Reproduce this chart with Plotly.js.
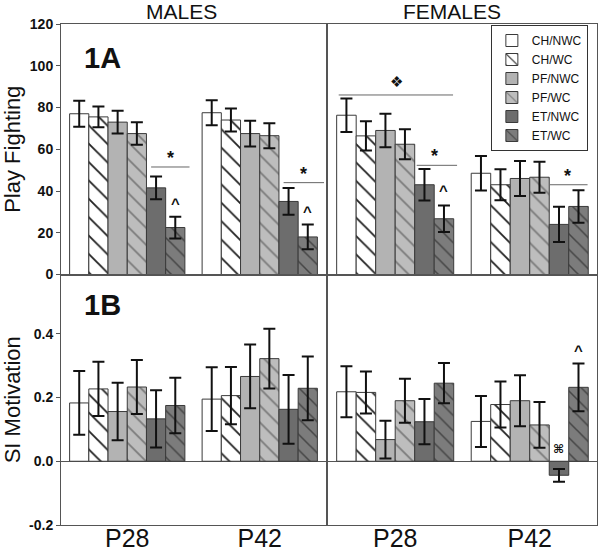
<!DOCTYPE html>
<html>
<head>
<meta charset="utf-8">
<script src="https://cdn.plot.ly/plotly-3.0.1.min.js"></script>
<style>
  html, body { margin: 0; padding: 0; background: #fff; }
  #chart { width: 600px; height: 555px; }
</style>
</head>
<body>
<div id="chart"></div>
<script>
const conditions = ['CH/NWC', 'CH/WC', 'PF/NWC', 'PF/WC', 'ET/NWC', 'ET/WC'];
const ages = ['P28', 'P42'];

// one pair per condition: [P28, P42]
const playMales = [[77, 77.5], [75.5, 74], [73, 67.5], [67.5, 66.5], [41.5, 35], [22.5, 18]];
const playMalesErr = [[6.2, 6], [5, 5.5], [5.4, 6.2], [5.4, 6], [5.5, 6.4], [5.2, 5.9]];
const playFemales = [[76.3, 48.5], [66.4, 43], [69, 46], [62.4, 46.6], [43, 24], [26.7, 32.6]];
const playFemalesErr = [[8, 8.3], [7, 7.4], [8, 8.4], [7.2, 7.4], [7.5, 8.4], [6.4, 7.8]];

const siMales = [[0.183, 0.195], [0.227, 0.206], [0.156, 0.266], [0.233, 0.322], [0.133, 0.163], [0.175, 0.229]];
const siMalesErr = [[0.1, 0.1], [0.085, 0.09], [0.09, 0.1], [0.085, 0.094], [0.09, 0.108], [0.087, 0.1]];
const siFemales = [[0.218, 0.125], [0.216, 0.178], [0.068, 0.19], [0.19, 0.114], [0.124, -0.044], [0.245, 0.232]];
const siFemalesErr = [[0.08, 0.08], [0.066, 0.072], [0.059, 0.08], [0.069, 0.072], [0.071, 0.02], [0.063, 0.075]];

const FONT = 'Liberation Sans, Arial, sans-serif';
const EDGE = '#555555';

const barStyles = [
    { color: '#ffffff', hatch: null },
    { color: '#ffffff', hatch: '#222222', size: 13 },
    { color: '#b3b3b3', hatch: null },
    { color: '#bdbdbd', hatch: '#7a7a7a', size: 12 },
    { color: '#6d6d6d', hatch: null },
    { color: '#7c7c7c', hatch: '#454545', size: 11 },
];

function barMarker(style) {
    const marker = { color: style.color, line: { color: '#3a3a3a', width: 1 } };
    if (style.hatch) {
        marker.pattern = {
            shape: '\\',
            bgcolor: style.color,
            fgcolor: style.hatch,
            size: style.size,
            solidity: 0.14,
        };
    }
    return marker;
}

function panelTraces(values, errors, xa, ya, legend) {
    return conditions.map((cond, ci) => ({
        type: 'bar',
        x: ages,
        y: values[ci],
        name: cond,
        xaxis: xa,
        yaxis: ya,
        legendgroup: cond,
        showlegend: legend,
        marker: barMarker(barStyles[ci]),
        error_y: { type: 'data', array: errors[ci], visible: true, color: '#111', thickness: 2, width: 6 },
        hoverinfo: 'skip',
    }));
}

const traces = [
    ...panelTraces(playMales, playMalesErr, 'x', 'y', true),
    ...panelTraces(playFemales, playFemalesErr, 'x2', 'y2', false),
    ...panelTraces(siMales, siMalesErr, 'x3', 'y3', false),
    ...panelTraces(siFemales, siFemalesErr, 'x4', 'y4', false),
];

function xAxis(domain, anchor, labels) {
    return {
        domain,
        anchor,
        type: 'category',
        range: [-0.5, 1.5],
        showline: true,
        mirror: true,
        linecolor: EDGE,
        linewidth: 1,
        ticks: '',
        showgrid: false,
        zeroline: false,
        showticklabels: labels,
        ticklabelstandoff: -9,
        tickfont: { family: FONT, size: 25, color: '#111' },
    };
}

function yAxis(domain, anchor, range, labels, extra) {
    return {
        domain,
        anchor,
        range,
        showline: true,
        mirror: true,
        linecolor: EDGE,
        linewidth: 1,
        showgrid: false,
        ticks: labels ? 'outside' : '',
        ticklen: 4,
        tickcolor: EDGE,
        showticklabels: labels,
        tickfont: { family: FONT, size: 14, color: '#111', weight: 'bold' },
        ...extra,
    };
}

const leftDom = [0, 0.4944];
const rightDom = [0.498, 1];
const topDom = [0.5, 1];
const botDom = [0, 0.5];

function sigLine(xa, ya, x0, x1, y) {
    return { type: 'line', xref: xa, yref: ya, x0, x1, y0: y, y1: y, line: { color: '#666', width: 1 } };
}

function mark(xa, ya, x, y, text, size, family) {
    return {
        xref: xa, yref: ya, x, y, text,
        showarrow: false, yanchor: 'bottom',
        font: { family: family || FONT, size: size || 18, color: '#111', weight: 'bold' },
    };
}

const layout = {
    width: 600,
    height: 555,
    margin: { l: 61, r: 3, t: 24, b: 30 },
    paper_bgcolor: '#ffffff',
    plot_bgcolor: '#ffffff',
    barmode: 'group',
    bargap: 0.13,
    bargroupgap: 0,
    font: { family: FONT, color: '#111' },
    xaxis: xAxis(leftDom, 'y', false),
    xaxis2: xAxis(rightDom, 'y2', false),
    xaxis3: xAxis(leftDom, 'y3', true),
    xaxis4: xAxis(rightDom, 'y4', true),
    yaxis: yAxis(topDom, 'x', [0, 120], true, {
        dtick: 20,
        title: { text: 'Play Fighting', font: { family: FONT, size: 22, color: '#111' }, standoff: 10 },
    }),
    yaxis2: yAxis(topDom, 'x2', [0, 120], false, { dtick: 20 }),
    yaxis3: yAxis(botDom, 'x3', [-0.2, 0.586], true, {
        tickvals: [-0.2, 0, 0.2, 0.4],
        ticktext: ['-0.2', '0.0', '0.2', '0.4'],
        zeroline: true, zerolinecolor: EDGE, zerolinewidth: 1,
        title: { text: 'SI Motivation', font: { family: FONT, size: 22, color: '#111' }, standoff: 10 },
    }),
    yaxis4: yAxis(botDom, 'x4', [-0.2, 0.586], false, {
        zeroline: true, zerolinecolor: EDGE, zerolinewidth: 1,
    }),
    legend: {
        x: 0.802, xanchor: 'left',
        y: 0.998, yanchor: 'top',
        bgcolor: '#ffffff',
        bordercolor: '#333',
        borderwidth: 1,
        tracegroupgap: 0,
        font: { family: FONT, size: 12, color: '#111' },
    },
    shapes: [
        sigLine('x', 'y', 0.18, 0.47, 51.5),
        sigLine('x', 'y', 1.18, 1.485, 44),
        sigLine('x2', 'y2', -0.42, 0.43, 86),
        sigLine('x2', 'y2', 0.16, 0.46, 52.3),
        sigLine('x2', 'y2', 1.15, 1.43, 43),
    ],
    annotations: [
        { xref: 'x domain', yref: 'paper', x: 0.453, y: 1, yanchor: 'bottom', showarrow: false, borderpad: 0,
          text: 'MALES', font: { family: FONT, size: 21, color: '#111' } },
        { xref: 'x2 domain', yref: 'paper', x: 0.461, y: 1, yanchor: 'bottom', showarrow: false, borderpad: 0,
          text: 'FEMALES', font: { family: FONT, size: 21, color: '#111' } },
        { xref: 'x domain', yref: 'y domain', x: 0.08, y: 0.864, xanchor: 'left', yanchor: 'middle', showarrow: false,
          text: '1A', font: { family: FONT, size: 29, color: '#111', weight: 'bold' } },
        { xref: 'x3 domain', yref: 'y3 domain', x: 0.08, y: 0.88, xanchor: 'left', yanchor: 'middle', showarrow: false,
          text: '1B', font: { family: FONT, size: 29, color: '#111', weight: 'bold' } },
        mark('x', 'y', 0.33, 50, '*'),
        mark('x', 'y', 1.33, 42.5, '*'),
        mark('x2', 'y2', 0.29, 50.8, '*'),
        mark('x2', 'y2', 1.28, 41.5, '*'),
        mark('x', 'y', 0.3625, 29, '^', 15),
        mark('x', 'y', 1.3625, 25, '^', 15),
        mark('x2', 'y2', 0.3625, 35, '^', 15),
        mark('x2', 'y2', 0.01, 87, '\u2756', 15, 'DejaVu Sans, sans-serif'),
        mark('x4', 'y4', 1.2175, 0.01, '\u2318', 12, 'DejaVu Sans, sans-serif'),
        mark('x4', 'y4', 1.3625, 0.315, '^', 15),
    ],
};

Plotly.newPlot('chart', traces, layout, { staticPlot: true, displayModeBar: false });
</script>
</body>
</html>
